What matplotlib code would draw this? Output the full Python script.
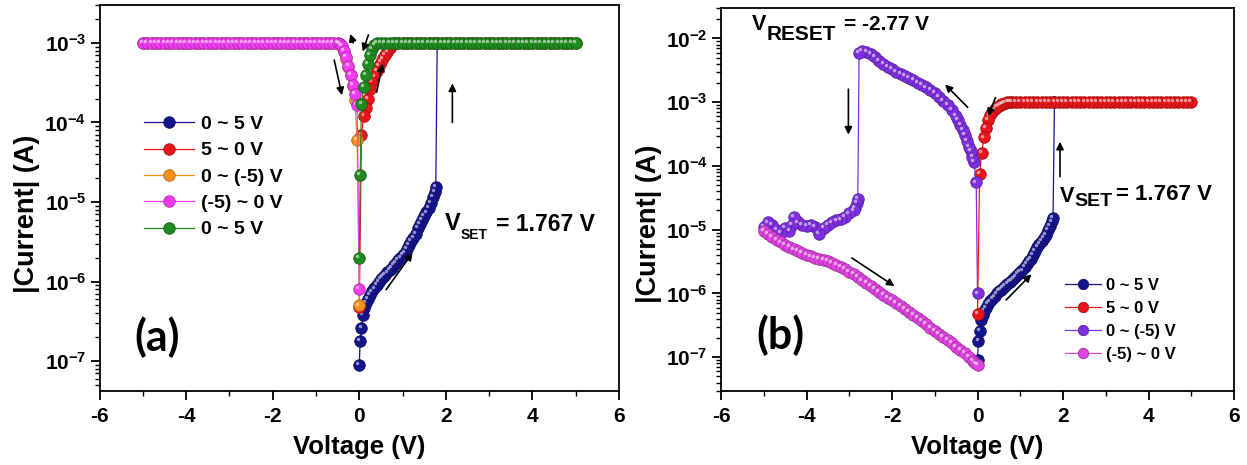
import matplotlib
matplotlib.use('Agg')
import matplotlib.pyplot as plt
import matplotlib.colors as mcolors
from matplotlib.ticker import MultipleLocator, LogLocator, NullFormatter
from matplotlib.transforms import ScaledTranslation

plt.rcParams['font.family'] = ['Liberation Sans', 'DejaVu Sans']
plt.rcParams['font.weight'] = 'bold'
plt.rcParams['axes.unicode_minus'] = False

W, H = 1247, 465

# ---------------- data, panel (a) ----------------
# first sweep 0 ~ 5 V (also used in panel b)
v_up1 = [0.00, 0.02, 0.05, 0.08, 0.12, 0.16, 0.20, 0.25, 0.30, 0.35, 0.40, 0.45,
         0.50, 0.55, 0.60, 0.65, 0.70, 0.75, 0.80, 0.85, 0.90, 0.95, 1.00, 1.05,
         1.10, 1.15, 1.20, 1.25, 1.30, 1.35, 1.40, 1.45, 1.50, 1.55, 1.60, 1.65,
         1.70, 1.74, 1.767, 1.80]
i_up1 = [9.0e-8, 1.8e-7, 2.6e-7, 3.8e-7, 4.6e-7, 5.4e-7, 6.0e-7, 6.8e-7, 7.5e-7,
         8.2e-7, 9.0e-7, 1.0e-6, 1.08e-6, 1.15e-6, 1.22e-6, 1.3e-6, 1.4e-6, 1.5e-6,
         1.6e-6, 1.72e-6, 1.85e-6, 2.0e-6, 2.15e-6, 2.3e-6, 2.6e-6, 2.9e-6, 3.2e-6,
         3.5e-6, 4.0e-6, 4.7e-6, 5.3e-6, 5.9e-6, 6.6e-6, 7.4e-6, 8.4e-6, 9.8e-6,
         1.15e-5, 1.35e-5, 1.55e-5, 1.0e-3]

# 5 ~ 0 V
va_down = [5.0, 4.9, 4.8, 4.7, 4.6, 4.5, 4.4, 4.3, 4.2, 4.1, 4.0, 3.9, 3.8, 3.7,
           3.6, 3.5, 3.4, 3.3, 3.2, 3.1, 3.0, 2.9, 2.8, 2.7, 2.6, 2.5, 2.4, 2.3,
           2.2, 2.1, 2.0, 1.9, 1.8, 1.7, 1.6, 1.5, 1.4, 1.3, 1.2, 1.1, 1.0, 0.9,
           0.8, 0.75, 0.70, 0.65, 0.60, 0.55, 0.50, 0.45, 0.40, 0.35, 0.30, 0.25,
           0.20, 0.15, 0.10, 0.05, 0.00]
ia_down = [1e-3, 1e-3, 1e-3, 1e-3, 1e-3, 1e-3, 1e-3, 1e-3, 1e-3, 1e-3, 1e-3, 1e-3,
           1e-3, 1e-3, 1e-3, 1e-3, 1e-3, 1e-3, 1e-3, 1e-3, 1e-3, 1e-3, 1e-3, 1e-3,
           1e-3, 1e-3, 1e-3, 1e-3, 1e-3, 1e-3, 1e-3, 1e-3, 1e-3, 1e-3, 1e-3, 1e-3,
           1e-3, 1e-3, 1e-3, 1e-3, 1e-3, 1e-3, 1e-3, 9.3e-4, 8.6e-4, 7.8e-4, 7.1e-4,
           6.4e-4, 5.8e-4, 5.1e-4, 4.4e-4, 3.8e-4, 3.2e-4, 2.6e-4, 2.0e-4, 1.5e-4,
           1.2e-4, 7.0e-5, 4.8e-7]

# 0 ~ (-5) V
va_neg = [0.00, -0.05, -0.10, -0.15, -0.20, -0.25, -0.30, -0.35, -0.40, -0.45,
          -0.5, -0.6, -0.7, -0.8, -0.9, -1.0, -1.1, -1.2, -1.3, -1.4, -1.5, -1.6,
          -1.7, -1.8, -1.9, -2.0, -2.1, -2.2, -2.3, -2.4, -2.5, -2.6, -2.7, -2.8,
          -2.9, -3.0, -3.1, -3.2, -3.3, -3.4, -3.5, -3.6, -3.7, -3.8, -3.9, -4.0,
          -4.1, -4.2, -4.3, -4.4, -4.5, -4.6, -4.7, -4.8, -4.9, -5.0]
ia_neg = [5.0e-7, 6.0e-5, 1.9e-4, 2.9e-4, 3.9e-4, 5.0e-4, 6.3e-4, 7.6e-4, 8.8e-4,
          9.6e-4, 1e-3, 1e-3, 1e-3, 1e-3, 1e-3, 1e-3, 1e-3, 1e-3, 1e-3, 1e-3, 1e-3,
          1e-3, 1e-3, 1e-3, 1e-3, 1e-3, 1e-3, 1e-3, 1e-3, 1e-3, 1e-3, 1e-3, 1e-3,
          1e-3, 1e-3, 1e-3, 1e-3, 1e-3, 1e-3, 1e-3, 1e-3, 1e-3, 1e-3, 1e-3, 1e-3,
          1e-3, 1e-3, 1e-3, 1e-3, 1e-3, 1e-3, 1e-3, 1e-3, 1e-3, 1e-3, 1e-3]

# (-5) ~ 0 V
va_back = [-5.0, -4.9, -4.8, -4.7, -4.6, -4.5, -4.4, -4.3, -4.2, -4.1, -4.0, -3.9,
           -3.8, -3.7, -3.6, -3.5, -3.4, -3.3, -3.2, -3.1, -3.0, -2.9, -2.8, -2.7,
           -2.6, -2.5, -2.4, -2.3, -2.2, -2.1, -2.0, -1.9, -1.8, -1.7, -1.6, -1.5,
           -1.4, -1.3, -1.2, -1.1, -1.0, -0.9, -0.8, -0.7, -0.6, -0.50, -0.45,
           -0.40, -0.35, -0.30, -0.25, -0.20, -0.15, -0.10, -0.05, 0.00]
ia_back = [1e-3, 1e-3, 1e-3, 1e-3, 1e-3, 1e-3, 1e-3, 1e-3, 1e-3, 1e-3, 1e-3, 1e-3,
           1e-3, 1e-3, 1e-3, 1e-3, 1e-3, 1e-3, 1e-3, 1e-3, 1e-3, 1e-3, 1e-3, 1e-3,
           1e-3, 1e-3, 1e-3, 1e-3, 1e-3, 1e-3, 1e-3, 1e-3, 1e-3, 1e-3, 1e-3, 1e-3,
           1e-3, 1e-3, 1e-3, 1e-3, 1e-3, 1e-3, 1e-3, 1e-3, 1e-3, 1.0e-3, 9.8e-4,
           9.2e-4, 8.0e-4, 6.6e-4, 5.2e-4, 4.0e-4, 3.0e-4, 2.3e-4, 1.65e-4, 8.0e-7]

# second 0 ~ 5 V
va_up2 = [0.00, 0.02, 0.05, 0.10, 0.15, 0.20, 0.25, 0.30, 0.35, 0.40, 0.5, 0.6,
          0.7, 0.8, 0.9, 1.0, 1.1, 1.2, 1.3, 1.4, 1.5, 1.6, 1.7, 1.8, 1.9, 2.0,
          2.1, 2.2, 2.3, 2.4, 2.5, 2.6, 2.7, 2.8, 2.9, 3.0, 3.1, 3.2, 3.3, 3.4,
          3.5, 3.6, 3.7, 3.8, 3.9, 4.0, 4.1, 4.2, 4.3, 4.4, 4.5, 4.6, 4.7, 4.8,
          4.9, 5.0]
ia_up2 = [2.0e-6, 2.2e-5, 1.7e-4, 2.8e-4, 4.0e-4, 5.5e-4, 7.0e-4, 8.5e-4, 9.5e-4,
          1e-3, 1e-3, 1e-3, 1e-3, 1e-3, 1e-3, 1e-3, 1e-3, 1e-3, 1e-3, 1e-3, 1e-3,
          1e-3, 1e-3, 1e-3, 1e-3, 1e-3, 1e-3, 1e-3, 1e-3, 1e-3, 1e-3, 1e-3, 1e-3,
          1e-3, 1e-3, 1e-3, 1e-3, 1e-3, 1e-3, 1e-3, 1e-3, 1e-3, 1e-3, 1e-3, 1e-3,
          1e-3, 1e-3, 1e-3, 1e-3, 1e-3, 1e-3, 1e-3, 1e-3, 1e-3, 1e-3, 1e-3]

# ---------------- data, panel (b) ----------------
vb_down = [5.0, 4.9, 4.8, 4.7, 4.6, 4.5, 4.4, 4.3, 4.2, 4.1, 4.0, 3.9, 3.8, 3.7,
           3.6, 3.5, 3.4, 3.3, 3.2, 3.1, 3.0, 2.9, 2.8, 2.7, 2.6, 2.5, 2.4, 2.3,
           2.2, 2.1, 2.0, 1.9, 1.8, 1.7, 1.6, 1.5, 1.4, 1.3, 1.2, 1.1, 1.0, 0.9,
           0.8, 0.75, 0.70, 0.65, 0.60, 0.55, 0.50, 0.45, 0.40, 0.35, 0.30, 0.25,
           0.20, 0.15, 0.10, 0.05, 0.00]
ib_down = [1e-3, 1e-3, 1e-3, 1e-3, 1e-3, 1e-3, 1e-3, 1e-3, 1e-3, 1e-3, 1e-3, 1e-3,
           1e-3, 1e-3, 1e-3, 1e-3, 1e-3, 1e-3, 1e-3, 1e-3, 1e-3, 1e-3, 1e-3, 1e-3,
           1e-3, 1e-3, 1e-3, 1e-3, 1e-3, 1e-3, 1e-3, 1e-3, 1e-3, 1e-3, 1e-3, 1e-3,
           1e-3, 1e-3, 1e-3, 1e-3, 1e-3, 1e-3, 1e-3, 1.0e-3, 1.0e-3, 9.8e-4, 9.5e-4,
           9.2e-4, 8.8e-4, 8.3e-4, 7.7e-4, 7.0e-4, 6.2e-4, 5.2e-4, 4.0e-4, 2.8e-4,
           1.6e-4, 7.5e-5, 4.8e-7]

vb_neg = [0.00, -0.03, -0.08, -0.12, -0.16, -0.20, -0.25, -0.30, -0.35, -0.40,
          -0.45, -0.50, -0.60, -0.70, -0.80, -0.90, -1.00, -1.10, -1.20, -1.30,
          -1.40, -1.50, -1.60, -1.70, -1.80, -1.90, -2.00, -2.10, -2.20, -2.30,
          -2.40, -2.50, -2.60, -2.70, -2.77, -2.80, -2.83, -2.86, -2.90, -3.00,
          -3.10, -3.20, -3.30, -3.40, -3.50, -3.60, -3.70, -3.80, -3.90, -4.00,
          -4.10, -4.20, -4.30, -4.35, -4.40, -4.50, -4.60, -4.70, -4.80, -4.90,
          -5.00]
ib_neg = [1.0e-6, 5.5e-5, 1.15e-4, 1.4e-4, 1.7e-4, 2.0e-4, 2.5e-4, 3.1e-4, 3.7e-4,
          4.4e-4, 5.2e-4, 6.0e-4, 7.5e-4, 9.0e-4, 1.05e-3, 1.2e-3, 1.4e-3, 1.55e-3,
          1.7e-3, 1.85e-3, 2.0e-3, 2.2e-3, 2.4e-3, 2.6e-3, 2.8e-3, 3.0e-3, 3.3e-3,
          3.6e-3, 4.0e-3, 4.5e-3, 5.1e-3, 5.7e-3, 6.2e-3, 6.3e-3, 5.9e-3, 3.0e-5,
          2.6e-5, 2.2e-5, 2.0e-5, 1.8e-5, 1.6e-5, 1.45e-5, 1.4e-5, 1.3e-5, 1.2e-5,
          1.05e-5, 8.5e-6, 1.1e-5, 1.2e-5, 1.15e-5, 1.2e-5, 1.3e-5, 1.6e-5, 1.2e-5,
          9.5e-6, 1.05e-5, 9.0e-6, 1.0e-5, 1.2e-5, 1.3e-5, 1.1e-5]

vb_back = [-5.0, -4.9, -4.8, -4.7, -4.6, -4.5, -4.4, -4.3, -4.2, -4.1, -4.0, -3.9,
           -3.8, -3.7, -3.6, -3.5, -3.4, -3.3, -3.2, -3.1, -3.0, -2.9, -2.8, -2.7,
           -2.6, -2.5, -2.4, -2.3, -2.2, -2.1, -2.0, -1.9, -1.8, -1.7, -1.6, -1.5,
           -1.4, -1.3, -1.2, -1.1, -1.0, -0.9, -0.8, -0.7, -0.6, -0.5, -0.4, -0.3,
           -0.2, -0.1, -0.05, 0.0]
ib_back = [9.5e-6, 8.5e-6, 7.6e-6, 6.9e-6, 6.3e-6, 5.8e-6, 5.3e-6, 4.9e-6, 4.6e-6,
           4.3e-6, 4.0e-6, 3.8e-6, 3.65e-6, 3.5e-6, 3.35e-6, 3.2e-6, 3.0e-6, 2.8e-6,
           2.6e-6, 2.4e-6, 2.2e-6, 2.0e-6, 1.8e-6, 1.6e-6, 1.45e-6, 1.3e-6, 1.18e-6,
           1.05e-6, 9.5e-7, 8.6e-7, 7.8e-7, 7.0e-7, 6.3e-7, 5.7e-7, 5.1e-7, 4.6e-7,
           4.1e-7, 3.7e-7, 3.3e-7, 2.9e-7, 2.6e-7, 2.35e-7, 2.1e-7, 1.85e-7, 1.65e-7,
           1.45e-7, 1.3e-7, 1.15e-7, 1.0e-7, 8.8e-8, 8.0e-8, 7.5e-8]

NAVY = '#14148c'
RED = '#e8161a'
ORANGE = '#f7901e'
MAGENTA = '#f23cf2'
GREEN = '#1f8a1f'
VIOLET = '#7f2fe0'
PINK = '#e044e0'


def px(x, y):
    return x / W, 1 - y / H


def sweep(ax, v, i, color, label, ms=8.3):
    dark = tuple(c * 0.72 for c in mcolors.to_rgb(color))
    ax.plot(v, i, '-', color=color, lw=0.9, marker='o', ms=ms,
            mfc=color, mec=dark, mew=0.6, label=label)
    shift = ax.transData + ScaledTranslation(-ms * 0.16 / 72, ms * 0.16 / 72,
                                             fig.dpi_scale_trans)
    ax.plot(v, i, 'o', ms=ms * 0.3, mfc='white', mec='none', alpha=0.55,
            transform=shift)


def arrow(ax, tail, head):
    ax.annotate('', xy=head, xytext=tail,
                arrowprops=dict(arrowstyle='-|>', color='k', lw=1.2,
                                mutation_scale=11, shrinkA=0, shrinkB=0))


def style(ax, ylim, ylab_y):
    ax.set_yscale('log')
    ax.set_xlim(-6, 6)
    ax.set_ylim(*ylim)
    ax.xaxis.set_major_locator(MultipleLocator(2))
    ax.xaxis.set_minor_locator(MultipleLocator(1))
    ax.yaxis.set_major_locator(LogLocator(base=10, numticks=20))
    ax.yaxis.set_minor_locator(LogLocator(base=10, subs=(2, 3, 4, 5, 6, 7, 8, 9),
                                          numticks=100))
    ax.yaxis.set_minor_formatter(NullFormatter())
    for s in ax.spines.values():
        s.set_linewidth(1.3)
    ax.tick_params(which='major', direction='out', length=6.5, width=1.3,
                   labelsize=15, top=False, right=False)
    ax.tick_params(which='minor', direction='out', length=3.5, width=1.0,
                   top=False, right=False)
    ax.tick_params(axis='x', which='major', pad=5)
    ax.tick_params(axis='y', which='major', pad=3)
    ax.set_xlabel('Voltage (V)', fontsize=18.5, fontweight='bold')
    ax.set_ylabel('|Current| (A)', fontsize=19.5, fontweight='bold')
    ax.xaxis.set_label_coords(0.5, -0.114)
    ax.yaxis.set_label_coords(-0.115, ylab_y)


fig = plt.figure(figsize=(W / 100, H / 100), dpi=100)
ax1 = fig.add_axes([99.6 / W, 1 - 391 / H, 519.4 / W, 386 / H])
ax2 = fig.add_axes([721 / W, 1 - 391 / H, 513 / W, 383 / H])

# ---------------- panel (a) ----------------
sweep(ax1, v_up1, i_up1, NAVY, '0 ~ 5 V')
sweep(ax1, va_down, ia_down, RED, '5 ~ 0 V')
sweep(ax1, va_neg, ia_neg, ORANGE, '0 ~ (-5) V')
sweep(ax1, va_back, ia_back, MAGENTA, '(-5) ~ 0 V')
sweep(ax1, va_up2, ia_up2, GREEN, '0 ~ 5 V')
style(ax1, (4.2e-8, 3.0e-3), 0.46)

arrow(ax1, (-0.14, 1.0e-3), (-0.21, 1.3e-3))
arrow(ax1, (0.21, 1.26e-3), (0.08, 7.8e-4))
arrow(ax1, (-0.58, 6.1e-4), (-0.40, 2.2e-4))
arrow(ax1, (0.40, 2.4e-4), (0.54, 5.5e-4))
arrow(ax1, (2.15, 1.0e-4), (2.15, 3.1e-4))
arrow(ax1, (0.62, 7.9e-7), (1.23, 2.3e-6))

ax1.legend(loc='upper left', bbox_to_anchor=(0.085, 0.714), frameon=False,
           fontsize=14, handlelength=2.6, handletextpad=0.35, labelspacing=0.45,
           borderpad=0, borderaxespad=0, numpoints=1)

fig.text(*px(444.7, 223), 'V', fontsize=17, fontweight='bold', va='center')
fig.text(*px(460.5, 235), 'SET', fontsize=10, fontweight='bold', va='center')
fig.text(*px(496, 224), '= 1.767 V', fontsize=16.5, fontweight='bold', va='center')
fig.text(*px(157, 337), '(a)', fontsize=31, fontweight='bold',
         family=['Lato', 'DejaVu Sans'], ha='center', va='center')

# ---------------- panel (b) ----------------
sweep(ax2, v_up1, i_up1, NAVY, '0 ~ 5 V')
sweep(ax2, vb_down, ib_down, RED, '5 ~ 0 V')
sweep(ax2, vb_neg, ib_neg, VIOLET, '0 ~ (-5) V')
sweep(ax2, vb_back, ib_back, PINK, '(-5) ~ 0 V')
style(ax2, (2.95e-8, 3.0e-2), 0.436)

arrow(ax2, (-3.02, 1.6e-3), (-3.02, 3.1e-4))
arrow(ax2, (-0.23, 8.3e-4), (-0.76, 1.9e-3))
arrow(ax2, (0.42, 1.18e-3), (0.25, 6.0e-4))
arrow(ax2, (1.93, 6.8e-5), (1.93, 2.4e-4))
arrow(ax2, (-2.94, 3.6e-6), (-1.94, 1.3e-6))
arrow(ax2, (0.67, 7.9e-7), (1.26, 2.0e-6))

ax2.legend(loc='upper left', bbox_to_anchor=(0.67, 0.296), frameon=False,
           fontsize=12, handlelength=2.2, handletextpad=0.25, labelspacing=0.48,
           borderpad=0, borderaxespad=0, numpoints=1, markerscale=0.9)

fig.text(*px(752, 24), 'V', fontsize=15.5, fontweight='bold', va='center')
fig.text(*px(767, 34), 'RESET', fontsize=15, fontweight='bold', va='center')
fig.text(*px(844, 24), '= -2.77 V', fontsize=15, fontweight='bold', va='center')
fig.text(*px(1060, 196), 'V', fontsize=15.5, fontweight='bold', va='center')
fig.text(*px(1074, 201), 'SET', fontsize=14, fontweight='bold', va='center')
fig.text(*px(1116, 194), '= 1.767 V', fontsize=16, fontweight='bold', va='center')
fig.text(*px(780, 335), '(b)', fontsize=31, fontweight='bold',
         family=['Lato', 'DejaVu Sans'], ha='center', va='center')

fig.savefig('out.png', dpi=100)
